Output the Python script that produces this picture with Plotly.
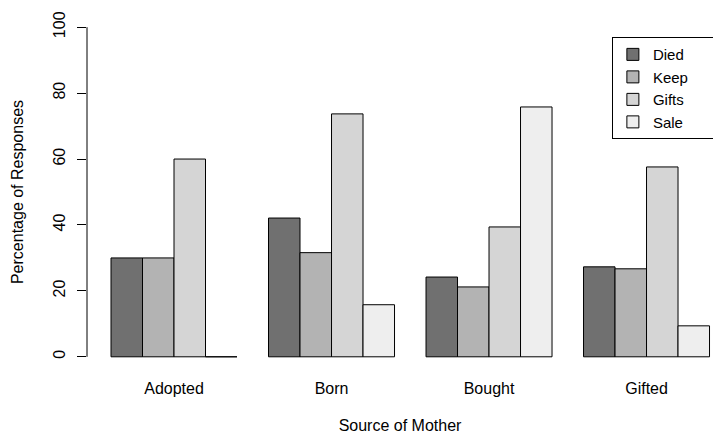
import plotly.graph_objects as go

categories = ["Adopted", "Born", "Bought", "Gifted"]
series_names = ["Died", "Keep", "Gifts", "Sale"]
died = [30.0, 42.1, 24.2, 27.3]
keep = [30.0, 31.6, 21.2, 26.7]
gifts = [60.0, 73.7, 39.4, 57.6]
sale = [0.0, 15.8, 75.8, 9.4]
colors = ["#707070", "#b3b3b3", "#d5d5d5", "#eeeeee"]
y_ticks = [0, 20, 40, 60, 80, 100]

FONT = "Liberation Sans, Arial, sans-serif"
PAD = "\u00a0" * 5  # trailing space so the legend box is as wide as the original

fig = go.Figure()
for name, vals, col in zip(series_names, [died, keep, gifts, sale], colors):
    fig.add_trace(go.Bar(
        name=name + PAD, x=categories, y=vals,
        marker=dict(color=col, line=dict(color="black", width=1)),
    ))

fig.update_layout(
    width=713, height=434,
    margin=dict(l=87, r=0, t=14, b=64, autoexpand=False),
    paper_bgcolor="white", plot_bgcolor="white",
    font=dict(family=FONT, size=16, color="black"),
    barmode="group", bargap=0.2, bargroupgap=0,
    showlegend=True,
    legend=dict(
        x=1.003, xanchor="right", y=0.935, yanchor="top",
        bordercolor="black", borderwidth=1, bgcolor="white",
        font=dict(family=FONT, size=15, color="black"),
    ),
)
fig.update_xaxes(
    range=[-0.5524, 3.422], showline=False, showgrid=False, zeroline=False,
    ticks="", tickfont=dict(size=16), ticklabelstandoff=7,
    title=dict(text="Source of Mother", standoff=27, font=dict(size=16)),
)
fig.update_yaxes(
    range=[-4, 104], tickvals=y_ticks, ticktext=[str(v) for v in y_ticks],
    showline=False, showgrid=False, zeroline=False,
    ticks="outside", ticklen=9, tickwidth=1, tickcolor="black",
    tickangle=-90, tickfont=dict(size=16), ticklabelstandoff=6,
    title=dict(text="Percentage of Responses", standoff=22, font=dict(size=16)),
)
fig.add_shape(type="line", xref="paper", yref="y", x0=0, x1=0,
              y0=y_ticks[0], y1=y_ticks[-1], line=dict(color="black", width=1))

fig.write_html("out.html", config={"displayModeBar": False},
               post_script="document.body.style.margin='0';")
